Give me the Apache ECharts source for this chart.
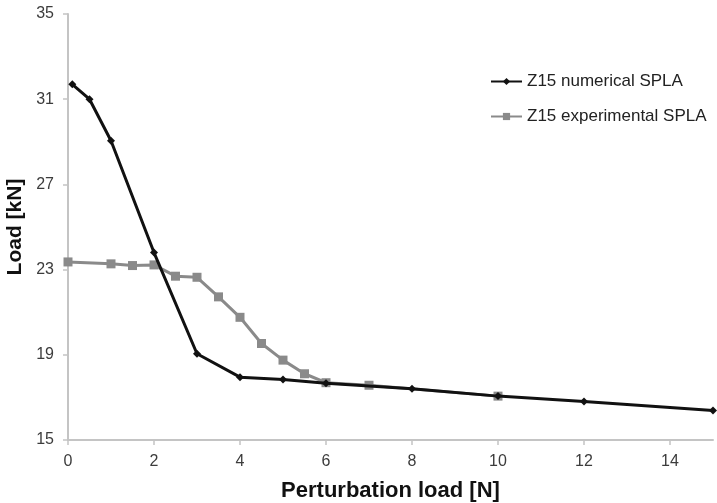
<!DOCTYPE html>
<html>
<head>
<meta charset="utf-8">
<script src="https://cdn.jsdelivr.net/npm/echarts@6/dist/echarts.min.js"></script>
<style>
  html, body { margin: 0; padding: 0; background: #fff; }
  #chart { width: 717px; height: 503px; }
</style>
</head>
<body>
<div id="chart"></div>
<script>
// Perturbation load [N] vs. buckling load [kN]
const numX = [0.1, 0.5, 1, 2, 3, 4, 5, 6, 8, 10, 12, 15];
const numY = [31.7, 31.0, 29.05, 23.8, 19.05, 17.95, 17.84, 17.66, 17.41, 17.06, 16.81, 16.39];
const expX = [0, 1, 1.5, 2, 2.5, 3, 3.5, 4, 4.5, 5, 5.5, 6, 7, 10];
const expY = [23.36, 23.27, 23.19, 23.22, 22.69, 22.64, 21.72, 20.76, 19.53, 18.75, 18.11, 17.69, 17.57, 17.06];
const xTicks = [0, 2, 4, 6, 8, 10, 12, 14];
const yTicks = [15, 19, 23, 27, 31, 35];

const pairs = (xs, ys) => xs.map((x, i) => [x, ys[i]]);
const font = 'Liberation Sans, Arial, sans-serif';

const chart = echarts.init(document.getElementById('chart'), null, { renderer: 'canvas' });
chart.setOption({
  animation: false,
  backgroundColor: '#fff',
  grid: { left: 68, right: 4, top: 14, bottom: 63, containLabel: false, outerBoundsMode: 'none' },
  legend: {
    orient: 'vertical',
    left: 485,
    top: 68,
    itemGap: 18,
    itemWidth: 31,
    itemHeight: 9,
    textStyle: { fontFamily: font, fontSize: 17, color: '#222' },
    lineStyle: { width: 2 },
    data: ['Z15 numerical SPLA', 'Z15 experimental SPLA']
  },
  xAxis: {
    type: 'value',
    min: 0,
    max: 15,
    name: 'Perturbation load [N]',
    nameLocation: 'middle',
    nameGap: 40,
    nameTextStyle: { fontFamily: font, fontSize: 22, fontWeight: 'bold', color: '#111' },
    axisLine: { show: true, onZero: false, lineStyle: { color: '#c4c4c4', width: 2 } },
    axisTick: { show: true, length: 5, customValues: xTicks, lineStyle: { color: '#c4c4c4', width: 1.5 } },
    axisLabel: { customValues: xTicks, fontFamily: font, fontSize: 16, color: '#3c3c3c', margin: 14 },
    splitLine: { show: false }
  },
  yAxis: {
    type: 'value',
    min: 15,
    max: 35,
    interval: 4,
    name: 'Load [kN]',
    nameLocation: 'middle',
    nameGap: 39,
    nameTextStyle: { fontFamily: font, fontSize: 21, fontWeight: 'bold', color: '#111' },
    axisLine: { show: true, onZero: false, lineStyle: { color: '#c4c4c4', width: 2 } },
    axisTick: { show: true, length: 5, customValues: yTicks, lineStyle: { color: '#c4c4c4', width: 1.5 } },
    axisLabel: { customValues: yTicks, fontFamily: font, fontSize: 16, color: '#3c3c3c', margin: 14 },
    splitLine: { show: false }
  },
  series: [
    {
      name: 'Z15 numerical SPLA',
      type: 'line',
      data: pairs(numX, numY),
      z: 3,
      symbol: 'diamond',
      symbolSize: 8,
      showAllSymbol: true,
      lineStyle: { color: '#111', width: 3 },
      itemStyle: { color: '#111' }
    },
    {
      name: 'Z15 experimental SPLA',
      type: 'line',
      data: pairs(expX, expY),
      z: 2,
      symbol: 'rect',
      symbolSize: 9,
      showAllSymbol: true,
      lineStyle: { color: '#8a8a8a', width: 3 },
      itemStyle: { color: '#8a8a8a' }
    }
  ]
});
</script>
</body>
</html>
